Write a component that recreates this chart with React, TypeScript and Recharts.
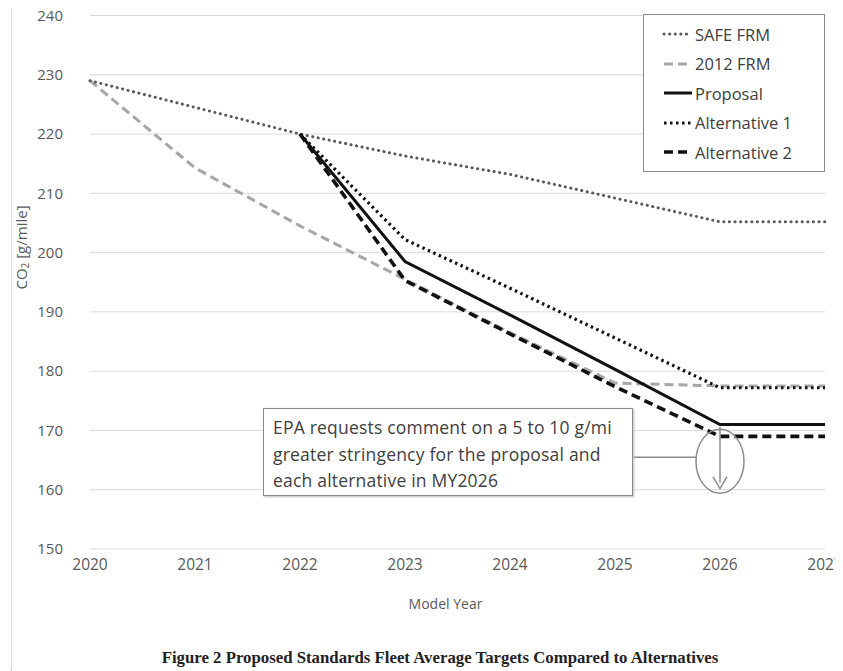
import React from 'react';
import {
  LineChart,
  Line,
  XAxis,
  YAxis,
  CartesianGrid,
  ReferenceDot,
  ReferenceLine,
} from 'recharts';

const years = [2020, 2021, 2022, 2023, 2024, 2025, 2026, 2027];
const safeFrm = [229, 224.5, 220, 216.3, 213.2, 209.2, 205.2, 205.2];
const frm2012 = [229, 214.3, 204.5, 195.5, 186.5, 178, 177.5, 177.5];
const proposal = [null, null, 220, 198.5, 189.5, 180.3, 171, 171];
const alternative1 = [null, null, 220, 202.2, 194, 185.6, 177.2, 177.2];
const alternative2 = [null, null, 220, 195.3, 186.3, 177.4, 169, 169];
const yTicks = [150, 160, 170, 180, 190, 200, 210, 220, 230, 240];

const series = [
  { key: 'frm2012', name: '2012 FRM', stroke: '#a6a6a6', width: 3, dash: '9 5', cap: 'butt' },
  { key: 'safe', name: 'SAFE FRM', stroke: '#595959', width: 3, dash: '0.1 5.5', cap: 'round' },
  { key: 'alt1', name: 'Alternative 1', stroke: '#111', width: 3.2, dash: '2.5 3.5', cap: 'butt' },
  { key: 'proposal', name: 'Proposal', stroke: '#111', width: 3, dash: undefined, cap: 'butt' },
  { key: 'alt2', name: 'Alternative 2', stroke: '#111', width: 3.6, dash: '9 5', cap: 'butt' },
];

const legendOrder = ['safe', 'frm2012', 'proposal', 'alt1', 'alt2'];

const data = years.map((year, i) => ({
  year,
  safe: safeFrm[i],
  frm2012: frm2012[i],
  proposal: proposal[i],
  alt1: alternative1[i],
  alt2: alternative2[i],
}));

const font = '"Open Sans", sans-serif';

const YLabel = ({ viewBox }: any) => {
  const x = viewBox.x + 13;
  const y = viewBox.y + 232;
  return (
    <text
      x={x}
      y={y}
      transform={`rotate(-90, ${x}, ${y})`}
      textAnchor="middle"
      dominantBaseline="central"
      fill="#595959"
      fontSize={15}
      fontFamily={font}
    >
      CO<tspan fontSize={10} dy={4}>2</tspan>
      <tspan dy={-4}> [g/mile]</tspan>
    </text>
  );
};

// ellipse around the 2026 point plus connector toward the note box
const Ellipse = ({ cx, cy }: any) => (
  <g>
    <ellipse cx={cx} cy={cy} rx={24} ry={32} fill="none" stroke="#8c8c8c" strokeWidth={1.5} />
    <line x1={cx - 24} y1={cy - 4} x2={cx - 89} y2={cy - 4} stroke="#8c8c8c" strokeWidth={1.5} />
  </g>
);

const Arrow = (props: any) => {
  const { x1, y1, x2, y2 } = props;
  return (
    <g>
      <line x1={x1} y1={y1} x2={x2} y2={y2 - 6} stroke="#8c8c8c" strokeWidth={1.5} />
      <polyline
        points={`${x2 - 7},${y2 - 12} ${x2},${y2} ${x2 + 7},${y2 - 12}`}
        fill="none"
        stroke="#8c8c8c"
        strokeWidth={1.5}
      />
    </g>
  );
};

export default function App() {
  return (
    <div style={{ position: 'relative', width: 835, height: 663, fontFamily: font }}>
      <div
        style={{
          position: 'absolute',
          left: 3,
          top: -2,
          width: 840,
          height: 670,
          borderTop: '1px dotted #c8c8c8',
          borderLeft: '1px dotted #c8c8c8',
          pointerEvents: 'none',
        }}
      />
      <div style={{ position: 'absolute', left: 0, top: -8 }}>
        <LineChart
          width={835}
          height={618}
          data={data}
          margin={{ top: 15.5, right: 18, left: 0, bottom: 9 }}
        >
          <CartesianGrid vertical={false} stroke="#d9d9d9" strokeWidth={1} />
          <XAxis
            dataKey="year"
            type="number"
            domain={[2020, 2027]}
            ticks={years}
            axisLine={false}
            tickLine={false}
            tickSize={0}
            tickMargin={10}
            height={60}
            interval={0}
            tick={{ fill: '#595959', fontSize: 15.5, fontFamily: font }}
            label={{
              value: 'Model Year',
              position: 'insideBottom',
              offset: 0,
              dx: -12,
              fill: '#595959',
              fontSize: 14,
              fontFamily: font,
            }}
          />
          <YAxis
            type="number"
            domain={[150, 240]}
            ticks={yTicks}
            axisLine={false}
            tickLine={false}
            tickSize={0}
            tickMargin={27}
            width={82}
            interval={0}
            tick={{ fill: '#595959', fontSize: 15, fontFamily: font }}
            label={<YLabel />}
          />
          {series.map((s) => (
            <Line
              key={s.key}
              dataKey={s.key}
              name={s.name}
              type="linear"
              stroke={s.stroke}
              strokeWidth={s.width}
              strokeDasharray={s.dash}
              strokeLinecap={s.cap as any}
              dot={false}
              activeDot={false}
              isAnimationActive={false}
            />
          ))}
          <ReferenceDot x={2026} y={164.8} r={0} shape={<Ellipse />} />
          <ReferenceLine
            segment={[
              { x: 2026, y: 170.6 },
              { x: 2026, y: 160.2 },
            ]}
            shape={<Arrow />}
          />
        </LineChart>
      </div>

      <div
        style={{
          position: 'absolute',
          left: 635,
          top: 6,
          width: 180,
          height: 156,
          border: '1.5px solid #8c8c8c',
          background: '#fff',
        }}
      >
        {legendOrder.map((k, i) => {
          const s = series.find((x) => x.key === k)!;
          return (
            <div
              key={k}
              style={{
                position: 'absolute',
                left: 18,
                top: 9 + i * 29.5,
                height: 20,
                display: 'flex',
                alignItems: 'center',
                whiteSpace: 'nowrap',
              }}
            >
              <svg width={32} height={20}>
                <line
                  x1={2}
                  y1={10}
                  x2={30}
                  y2={10}
                  stroke={s.stroke}
                  strokeWidth={s.width}
                  strokeDasharray={s.dash}
                  strokeLinecap={s.cap as any}
                />
              </svg>
              <span style={{ fontSize: 16.5, color: '#404040', marginLeft: 1 }}>{s.name}</span>
            </div>
          );
        })}
      </div>

      <div
        style={{
          position: 'absolute',
          left: 255,
          top: 400,
          width: 370,
          height: 88,
          border: '1.5px solid #8c8c8c',
          boxShadow: '1px 1px 2px #bbb',
          background: '#fff',
          boxSizing: 'border-box',
          padding: '5px 0 0 9px',
          fontSize: 17.5,
          letterSpacing: 0.2,
          lineHeight: '26.5px',
          color: '#404040',
          whiteSpace: 'nowrap',
        }}
      >
        EPA requests comment on a 5 to 10 g/mi
        <br />
        greater stringency for the proposal and
        <br />
        each alternative in MY2026
      </div>

      <div
        style={{
          position: 'absolute',
          left: 82,
          top: 640,
          width: 700,
          textAlign: 'center',
          fontFamily: '"Liberation Serif", serif',
          fontWeight: 'bold',
          fontSize: 16.8,
          color: '#222',
          whiteSpace: 'nowrap',
        }}
      >
        Figure 2 Proposed Standards Fleet Average Targets Compared to Alternatives
      </div>
    </div>
  );
}
